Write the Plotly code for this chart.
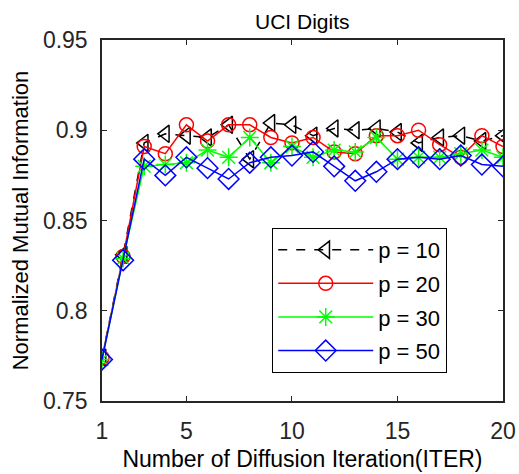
import plotly.graph_objects as go

iters = list(range(1, 21))
p10 = [0.774, 0.831, 0.893, 0.898, 0.897, 0.896, 0.903, 0.884, 0.904, 0.903,
       0.897, 0.901, 0.900, 0.901, 0.899, 0.893, 0.896, 0.897, 0.894, 0.897]
p20 = [0.774, 0.830, 0.891, 0.887, 0.903, 0.894, 0.903, 0.903, 0.896, 0.893,
       0.896, 0.888, 0.887, 0.897, 0.897, 0.900, 0.892, 0.885, 0.897, 0.891]
p30 = [0.773, 0.829, 0.880, 0.881, 0.882, 0.889, 0.885, 0.896, 0.882, 0.891,
       0.885, 0.889, 0.888, 0.896, 0.884, 0.885, 0.885, 0.887, 0.889, 0.885]
p50 = [0.773, 0.828, 0.884, 0.875, 0.885, 0.879, 0.873, 0.882, 0.885, 0.886,
       0.888, 0.880, 0.872, 0.877, 0.884, 0.885, 0.884, 0.886, 0.881, 0.880]

series = [
    ("p = 10", p10, "#000000", "triangle-left-open", "dash", 15),
    ("p = 20", p20, "#FF0000", "circle-open", "solid", 14),
    ("p = 30", p30, "#00FF00", "asterisk-open", "solid", 15),
    ("p = 50", p50, "#0000FF", "diamond-open", "solid", 16),
]

FONT = "Liberation Sans, Arial, Helvetica"

fig = go.Figure()
for i, (name, vals, color, sym, dash, size) in enumerate(series):
    fig.add_trace(go.Scatter(
        x=iters, y=vals, name=name, mode="lines+markers",
        legendgroup=f"g{i}",
        line=dict(color=color, width=1.5, dash=dash),
        marker=dict(symbol=sym, size=size, color=color,
                    line=dict(color=color, width=1.5)),
    ))

axis_common = dict(
    showgrid=False, zeroline=False, showline=True, mirror="ticks",
    linecolor="#262626", linewidth=1.5, ticks="inside", ticklen=5,
    tickcolor="#262626", tickwidth=1.3, automargin=False,
    tickfont=dict(family=FONT, size=23, color="#262626"),
)

fig.update_xaxes(range=[1, 20], tickvals=[1, 5, 10, 15, 20],
                 ticklabelstandoff=9,
                 title=dict(text="Number of Diffusion Iteration(ITER)",
                            font=dict(family=FONT, size=23, color="#000000"),
                            standoff=8),
                 **axis_common)
fig.update_yaxes(range=[0.75, 0.95], tickvals=[0.75, 0.8, 0.85, 0.9, 0.95],
                 ticktext=["0.75", "0.8", "0.85", "0.9", "0.95"],
                 ticklabelstandoff=8,
                 title=dict(text="Normalized Mutual Information",
                            font=dict(family=FONT, size=22, color="#000000"),
                            standoff=8),
                 **axis_common)

fig.add_annotation(text="UCI Digits", xref="paper", yref="paper",
                   x=0.5, y=1 + 19 / 361, xanchor="center", yanchor="middle",
                   showarrow=False,
                   font=dict(family=FONT, size=21, color="#000000"))

fig.update_layout(
    width=519, height=474,
    margin=dict(l=102, r=16, t=40, b=73, autoexpand=False),
    paper_bgcolor="white", plot_bgcolor="white",
    legend=dict(x=0.424, y=0.48, xanchor="left", yanchor="top",
                bordercolor="#000000", borderwidth=1.2, bgcolor="white",
                font=dict(family=FONT, size=22, color="#000000"),
                tracegroupgap=2, itemwidth=95),
    showlegend=True,
)

fig.write_html("out.html", config={"displayModeBar": False},
               post_script="document.body.style.margin='0';")
